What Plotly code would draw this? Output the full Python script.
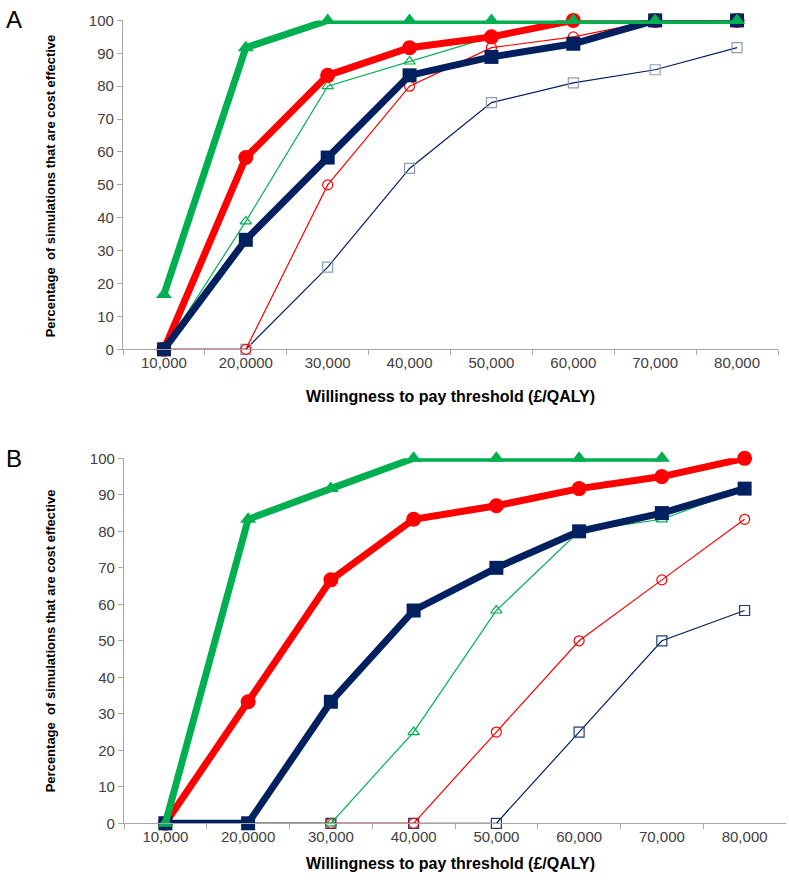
import plotly.graph_objects as go

W, H = 789, 888

thresholds = ["10,000", "20,0000", "30,000", "40,000", "50,000", "60,000", "70,000", "80,000"]

# panel A
a_green_thick = [16.7, 91.7, 100, 100, 100, 100, 100, 100]
a_red_thick = [0, 58.3, 83.3, 91.7, 95, 100, 100, 100]
a_navy_thick = [0, 33.3, 58.3, 83.3, 88.9, 92.9, 100, 100]
a_green_thin = [0, 38.9, 80, 87.5, 95, 100, 100, 100]
a_red_thin = [0, 0, 50, 80, 91.7, 95, 100, 100]
a_navy_thin = [0, 0, 25, 55, 75, 81, 85, 91.7]

# panel B
b_green_thick = [0, 83.3, 91.7, 100, 100, 100, 100, None]
b_red_thick = [0, 33.3, 66.7, 83.3, 87, 91.7, 95, 100]
b_navy_thick = [0, 0, 33.3, 58.3, 70, 80, 85, 91.7]
b_green_thin = [0, 0, 0, 25, 58.3, 80, 83.3, 91.7]
b_red_thin = [0, 0, 0, 0, 25, 50, 66.7, 83.3]
b_navy_thin = [0, 0, 0, 0, 0, 25, 50, 58.3]

GREEN = "#00B050"
RED = "#FF0000"
NAVY = "#002060"
AXIS = "#A6A6A6"
TXT = "#404040"
FONT = "Liberation Sans, Arial, sans-serif"


def px_x(p):
    return p / W


def px_y(p):
    # screenshot maps figure y to roughly 7.6 + 0.981*y, undo that
    return 1 - ((p - 7.6) / 0.981) / H


def thin(y, color, symbol, mcolor, xa, ya):
    return go.Scatter(
        x=thresholds, y=y, mode="lines+markers", xaxis=xa, yaxis=ya,
        line=dict(color=color, width=1.2),
        marker=dict(symbol=symbol, size=10, color=mcolor, line=dict(width=1.2)),
        cliponaxis=False, showlegend=False, hoverinfo="y",
    )


def thick(y, color, symbol, xa, ya, size=13):
    return go.Scatter(
        x=thresholds, y=y, mode="lines+markers", xaxis=xa, yaxis=ya,
        line=dict(color=color, width=7),
        marker=dict(symbol=symbol, size=size, color=color),
        cliponaxis=False, showlegend=False, hoverinfo="y",
    )


fig = go.Figure()

for xa, ya, g1, r1, n1, g2, r2, n2, sqc in [
    ("x", "y", a_green_thick, a_red_thick, a_navy_thick,
     a_green_thin, a_red_thin, a_navy_thin, "#8E9CB8"),
    ("x2", "y2", b_green_thick, b_red_thick, b_navy_thick,
     b_green_thin, b_red_thin, b_navy_thin, "#1F3C78"),
]:
    fig.add_trace(thin(n2, NAVY, "square-open", sqc, xa, ya))
    fig.add_trace(thin(r2, RED, "circle-open", RED, xa, ya))
    fig.add_trace(thin(g2, GREEN, "triangle-up-open", GREEN, xa, ya))
    fig.add_trace(thick(r1, RED, "circle", xa, ya, 15))
    fig.add_trace(thick(n1, NAVY, "square", xa, ya, 14))
    fig.add_trace(thick(g1, GREEN, "triangle-up", xa, ya, 14))


def xaxis(domain, anchor):
    return dict(
        domain=domain, anchor=anchor, type="category",
        range=[-0.5, 7.5], tickson="boundaries", ticks="outside", ticklen=5,
        tickcolor=AXIS, showline=True, linecolor=AXIS, linewidth=1.3,
        showgrid=False, zeroline=False,
        tickfont=dict(size=15, color=TXT, family=FONT),
    )


def yaxis(domain, anchor):
    return dict(
        domain=domain, anchor=anchor, range=[0, 100], dtick=10,
        ticks="outside", ticklen=5, tickcolor=AXIS,
        showline=True, linecolor=AXIS, linewidth=1.3,
        showgrid=False, zeroline=False,
        tickfont=dict(size=15, color=TXT, family=FONT),
    )


fig.update_layout(
    width=W, height=H,
    margin=dict(l=0, r=0, t=0, b=0),
    plot_bgcolor="white", paper_bgcolor="white",
    xaxis=xaxis([px_x(123), px_x(778)], "y"),
    yaxis=yaxis([px_y(348), px_y(19)], "x"),
    xaxis2=xaxis([px_x(124), px_x(786)], "y2"),
    yaxis2=yaxis([px_y(822), px_y(457)], "x2"),
    font=dict(family=FONT, color="black"),
)

ytitle = "Percentage  of simulations that are cost effective"
xtitle = "Willingness to pay threshold (£/QALY)"

for lab, yc in [("A", 18), ("B", 457)]:
    fig.add_annotation(x=px_x(14), y=px_y(yc), text=lab, xref="paper", yref="paper",
                       xanchor="center", yanchor="middle", showarrow=False,
                       font=dict(size=24, color="black", family=FONT))

for yc in [185, 640]:
    fig.add_annotation(x=px_x(50), y=px_y(yc), text="<b>" + ytitle.replace("  ", "&nbsp; ") + "</b>",
                       textangle=-90, xref="paper", yref="paper",
                       xanchor="center", yanchor="middle", showarrow=False,
                       font=dict(size=13, color="black", family=FONT))
for yc in [395, 862]:
    fig.add_annotation(x=px_x(450), y=px_y(yc), text="<b>" + xtitle + "</b>",
                       xref="paper", yref="paper", xanchor="center", yanchor="middle",
                       showarrow=False, font=dict(size=16, color="black", family=FONT))

# drop the default body margin so the figure fills the window exactly
fig.write_html(
    "out.html",
    config={"displayModeBar": False},
    post_script=(
        "document.documentElement.style.margin='0';"
        "document.documentElement.style.overflow='hidden';"
        "document.body.style.margin='0';"
        "document.body.style.overflow='hidden';"
    ),
)
